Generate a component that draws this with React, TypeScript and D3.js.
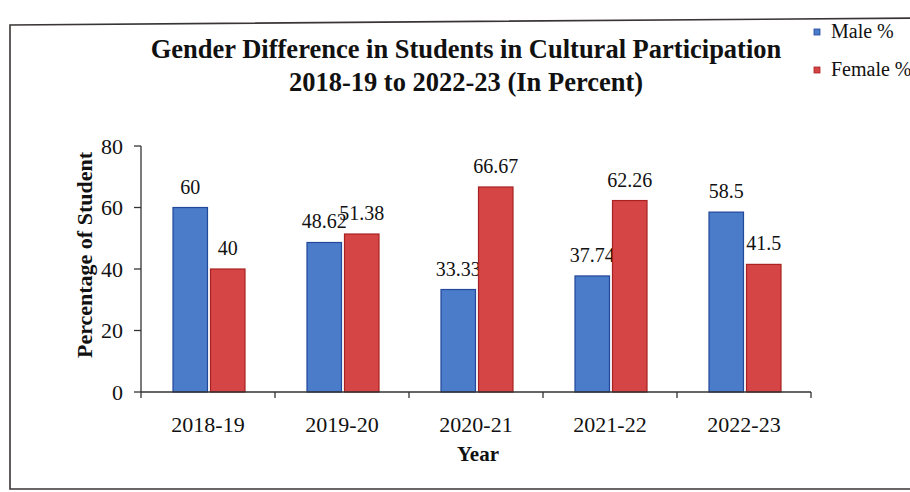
import React from "react";
import * as d3 from "d3";

const years = ["2018-19", "2019-20", "2020-21", "2021-22", "2022-23"];
const malePct = [60, 48.62, 33.33, 37.74, 58.5];
const femalePct = [40, 51.38, 66.67, 62.26, 41.5];
const seriesNames = ["Male %", "Female %"];
const yTicks = [0, 20, 40, 60, 80];
const titleLines = [
  "Gender Difference in Students in Cultural Participation",
  "2018-19 to 2022-23 (In Percent)",
];
const yAxisTitle = "Percentage of Student";
const xAxisTitle = "Year";

const W = 910;
const H = 492;
const FONT = "'Liberation Serif', 'Times New Roman', serif";
const fills = ["#4a7cc9", "#d64545"];
const strokes = ["#22479b", "#a82222"];

export default function App() {
  const left = 141;
  const right = 811;
  const y0 = 392;
  const yTop = 146;

  const x = d3.scaleBand<string>().domain(years).range([left, right]).padding(0);
  const bw = x.bandwidth();
  const x1 = d3
    .scaleBand<string>()
    .domain(seriesNames)
    .range([bw / 2 - 35, bw / 2 + 37])
    .paddingInner(0.08);
  const y = d3.scaleLinear().domain([0, 80]).range([y0, yTop]);

  const data = [malePct, femalePct];

  return (
    <svg
      width={W}
      height={H}
      style={{ position: "absolute", left: 0, top: 0, background: "#fff" }}
      fontFamily={FONT}
    >
      <rect x={0} y={0} width={W} height={H} fill="#fff" />
      {/* outer border */}
      <path d={`M920,18 L10,25 L10,489 L920,489`} fill="none" stroke="#3a3535" strokeWidth={1.6} />

      {/* title */}
      {titleLines.map((t, i) => (
        <text
          key={i}
          x={466}
          y={58 + i * 33}
          textAnchor="middle"
          fontWeight="bold"
          fontSize={26.5}
          fill="#111"
        >
          {t}
        </text>
      ))}

      {/* legend */}
      {seriesNames.map((s, i) => (
        <g key={s}>
          <rect x={814} y={29 + i * 38} width={6} height={6} fill={fills[i]} stroke={strokes[i]} strokeWidth={0.8} />
          <text x={831} y={38 + i * 38} fontSize={20} fill="#111">
            {s}
          </text>
        </g>
      ))}

      {/* bars */}
      {years.map((yr, i) => (
        <g key={yr} transform={`translate(${x(yr)},0)`}>
          {seriesNames.map((s, j) => {
            const v = data[j][i];
            const bx = x1(s)!;
            return (
              <g key={s}>
                <rect
                  x={bx}
                  y={y(v)}
                  width={x1.bandwidth()}
                  height={y0 - y(v)}
                  fill={fills[j]}
                  stroke={strokes[j]}
                  strokeWidth={1.2}
                />
                <text
                  x={bx + x1.bandwidth() / 2}
                  y={y(v) - 14}
                  textAnchor="middle"
                  fontSize={20}
                  fill="#111"
                >
                  {String(v)}
                </text>
              </g>
            );
          })}
        </g>
      ))}

      {/* y axis */}
      <line x1={left} x2={left} y1={yTop} y2={y0} stroke="#333" strokeWidth={1.3} />
      {yTicks.map((t) => (
        <g key={t}>
          <line x1={left - 7} x2={left} y1={y(t)} y2={y(t)} stroke="#333" strokeWidth={1.3} />
          <text x={123} y={y(t)} dy="0.35em" textAnchor="end" fontSize={22} fill="#111">
            {t}
          </text>
        </g>
      ))}

      {/* x axis */}
      <line x1={left} x2={right} y1={y0} y2={y0} stroke="#333" strokeWidth={1.3} />
      {[...years.map((yr) => x(yr)!), right].map((px, i) => (
        <line key={i} x1={px} x2={px} y1={y0} y2={y0 + 6} stroke="#333" strokeWidth={1.3} />
      ))}
      {years.map((yr) => (
        <text key={yr} x={x(yr)! + bw / 2} y={432} textAnchor="middle" fontSize={22} fill="#111">
          {yr}
        </text>
      ))}

      {/* axis titles */}
      <text
        transform={`translate(92,255) rotate(-90)`}
        textAnchor="middle"
        fontWeight="bold"
        fontSize={22}
        fill="#111"
      >
        {yAxisTitle}
      </text>
      <text x={478} y={461} textAnchor="middle" fontWeight="bold" fontSize={21} fill="#111">
        {xAxisTitle}
      </text>
    </svg>
  );
}
